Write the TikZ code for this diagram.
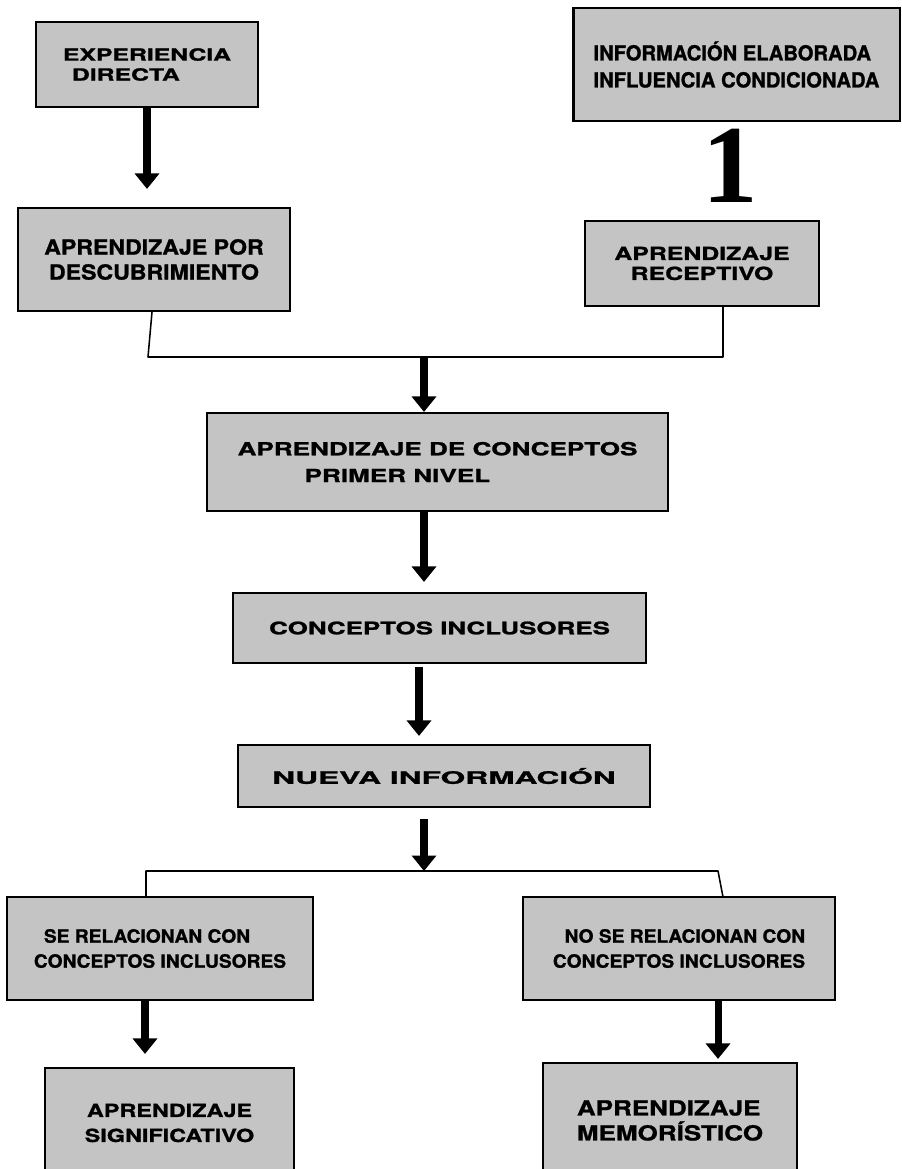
\documentclass[tikz,border=0pt]{standalone}
\usepackage{fontspec}
\usepackage{tikz}
\usetikzlibrary{positioning}
\usetikzlibrary{arrows.meta}
\newfontfamily\boxsf{TeX Gyre Heros}
\newfontfamily\numsf{Liberation Serif}
\definecolor{screen}{gray}{0.77}
\newcommand{\boxfont}[3]{\boxsf\bfseries\addfontfeatures{FakeStretch=#3,FakeBold=1.2}\fontsize{#1}{#2}\selectfont}
\tikzstyle{concept} = [draw,line width=1.5pt,fill=screen,inner sep=0pt]
\tikzstyle{bigarrow} = [line width=5pt,-{Triangle[width=17pt,length=11pt]}]
\tikzstyle{link} = [line width=1.1pt,line join=round]

\begin{document}
\begin{tikzpicture}[x=0.025cm,y=-0.025cm]
	%Frame
	\useasboundingbox (0,0) rectangle (901,1169);

	%Nodes
	\node[concept,minimum width=5.55cm,minimum height=2.125cm,align=left,font={\boxfont{11.9pt}{14.2pt}{1.48}}] (exper) at (147,64.5) {EXPERIENCIA\\\hspace*{0.225cm}DIRECTA};
	\node[concept,minimum width=6.8cm,minimum height=2.575cm,align=center,font={\boxfont{14.8pt}{17.8pt}{1.11}}] (descub) at (154,259.5) {APRENDIZAJE POR\\DESCUBRIMIENTO};

	\node[concept,minimum width=8.15cm,minimum height=2.825cm,align=left,font={\boxfont{14.8pt}{19.2pt}{0.97}}] (info) at (736.5,64.5) {INFORMACIÓN ELABORADA\\INFLUENCIA CONDICIONADA};
	\node[below=0.175cm of info,xshift=-0.15cm,inner sep=0pt,font={\numsf\bfseries\fontsize{79pt}{79pt}\selectfont}] (one) {1};
	\node[concept,minimum width=5.85cm,minimum height=2.125cm,align=center,font={\boxfont{12.8pt}{14.2pt}{1.38}}] (recep) at (702,263.5) {APRENDIZAJE\\RECEPTIVO};

	\node[concept,minimum width=11.525cm,minimum height=2.45cm,align=left,font={\boxfont{12.8pt}{19pt}{1.45}}] (concep) at (437.5,462) {APRENDIZAJE DE CONCEPTOS\\\hspace*{1.675cm}PRIMER NIVEL};
	\node[concept,minimum width=10.325cm,minimum height=1.75cm,font={\boxfont{12.3pt}{15pt}{1.5}}] (inclus) at (439.5,628) {CONCEPTOS INCLUSORES};
	\node[concept,minimum width=10.3cm,minimum height=1.55cm,font={\boxfont{12.2pt}{15pt}{1.85}}] (nueva) at (444,776) {NUEVA INFORMACIÓN};

	\node[concept,minimum width=7.65cm,minimum height=2.575cm,align=left,font={\boxfont{13pt}{17.8pt}{1.05}}] (serel) at (160,948.5) {\hspace*{0.25cm}SE RELACIONAN CON\\CONCEPTOS INCLUSORES};
	\node[concept,minimum width=7.8cm,minimum height=2.575cm,align=right,font={\boxfont{13pt}{17.8pt}{1.05}}] (noserel) at (679,948.5) {NO SE RELACIONAN CON\\CONCEPTOS INCLUSORES};

	\node[concept,minimum width=6.225cm,minimum height=2.75cm,align=center,font={\boxfont{12.8pt}{17.8pt}{1.3}}] (signif) at (169.5,1123) {APRENDIZAJE\\SIGNIFICATIVO};
	\node[concept,minimum width=6.35cm,minimum height=2.875cm,align=left,font={\boxfont{14.8pt}{17.8pt}{1.25}}] (memor) at (670,1120.5) {APRENDIZAJE\\MEMORÍSTICO};

	%Junctions
	\coordinate (jleft) at (148,357);
	\coordinate (jright) at (723,357);
	\coordinate (jmid) at (424,357);
	\coordinate (sleft) at (146,871);
	\coordinate (sright) at (718,871);
	\coordinate (smid) at (424,871);
	\coordinate (sdrop) at (723,897);

	%Lines
	\draw[bigarrow,shorten >=0.45cm] (exper.south) -- (exper.south |- descub.north);
	\draw[link] ([xshift=-0.05cm]descub.south) -- (jleft) -- (jright) -- (jright |- recep.south);
	\draw[bigarrow] (jmid) -- (jmid |- concep.north);
	\draw[bigarrow,shorten >=0.25cm] (jmid |- concep.south) -- (jmid |- inclus.north);
	\draw[bigarrow,shorten <=0.075cm,shorten >=0.2cm] ([xshift=-0.125cm]jmid |- inclus.south) -- ([xshift=-0.125cm]jmid |- nueva.north);
	\draw[bigarrow,shorten <=0.275cm] (smid |- nueva.south) -- (smid);
	\draw[link] (sleft |- serel.north) -- (sleft) -- (sright) -- (sdrop);
	\draw[bigarrow,shorten >=0.325cm] ([xshift=-0.375cm]serel.south) -- ([xshift=-0.375cm]serel.south |- signif.north);
	\draw[bigarrow,shorten >=0.075cm] ([xshift=0.975cm]noserel.south) -- ([xshift=0.975cm]noserel.south |- memor.north);
\end{tikzpicture}
\end{document}
